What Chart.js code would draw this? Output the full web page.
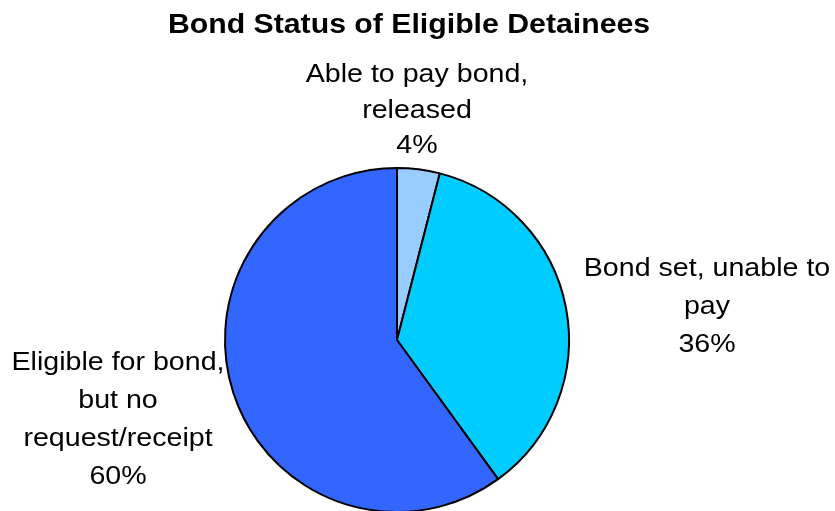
<!DOCTYPE html>
<html lang="en">
<head>
    <meta charset="UTF-8">
    <title>Bond Status of Eligible Detainees</title>
    <script src="https://cdn.jsdelivr.net/npm/chart.js"></script>
    <style>
        html, body {
            margin: 0;
            padding: 0;
            background: #ffffff;
            overflow: hidden;
        }
        #wrap {
            width: 835px;
            height: 511px;
            overflow: hidden;
        }
    </style>
</head>
<body>
    <div id="wrap">
        <canvas id="bondChart" width="835" height="530"></canvas>
    </div>

    <script>
        const chartTitle = 'Bond Status of Eligible Detainees';
        const categories = [
            ['Able to pay bond,', 'released'],
            ['Bond set, unable to', 'pay'],
            ['Eligible for bond,', 'but no', 'request/receipt']
        ];
        const shares = [4, 36, 60];
        const sliceColors = ['#99CCFF', '#00CCFF', '#3366FF'];

        // label blocks: centre x, first baseline y, line step
        const labelSpots = [
            { x: 417, y: 82, step: 35.5 },
            { x: 707, y: 276, step: 38 },
            { x: 118, y: 370, step: 38 }
        ];

        // the original text is drawn a bit wider than Arial
        function wideText(ctx, text, x, y, sx) {
            ctx.save();
            ctx.translate(x, y);
            ctx.scale(sx, 1);
            ctx.fillText(text, 0, 0);
            ctx.restore();
        }

        const textPlugin = {
            id: 'pieText',
            afterDraw(chart) {
                const ctx = chart.ctx;
                ctx.save();
                ctx.fillStyle = '#000000';
                ctx.textAlign = 'center';
                ctx.textBaseline = 'alphabetic';

                ctx.font = 'bold 27px "Liberation Sans", Arial, sans-serif';
                wideText(ctx, chartTitle, 409, 33, 1.12);

                ctx.font = '26px "Liberation Sans", Arial, sans-serif';
                categories.forEach((lines, i) => {
                    const spot = labelSpots[i];
                    const all = lines.concat([shares[i] + '%']);
                    all.forEach((t, j) => {
                        wideText(ctx, t, spot.x, spot.y + j * spot.step, 1.1);
                    });
                });
                ctx.restore();
            }
        };

        new Chart(document.getElementById('bondChart'), {
            type: 'pie',
            data: {
                labels: categories.map(c => c.join(' ')),
                datasets: [{
                    data: shares,
                    backgroundColor: sliceColors,
                    borderColor: '#000000',
                    borderWidth: 2
                }]
            },
            options: {
                responsive: false,
                animation: false,
                events: [],
                layout: {
                    padding: { top: 167, bottom: 17, left: 0, right: 41 }
                },
                plugins: {
                    legend: { display: false },
                    tooltip: { enabled: false }
                }
            },
            plugins: [textPlugin]
        });
    </script>
</body>
</html>
